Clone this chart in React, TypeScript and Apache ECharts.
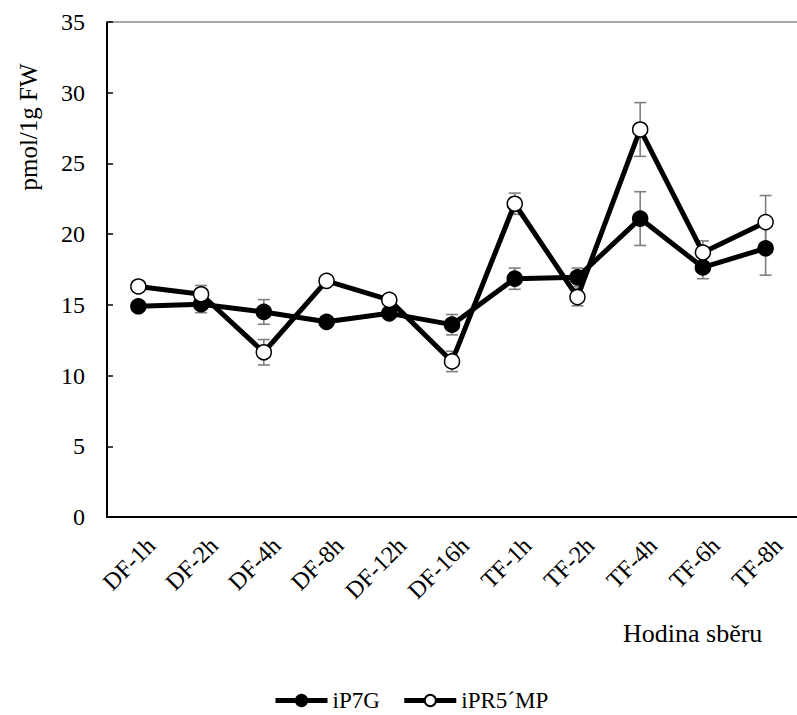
import React, { useEffect, useRef } from "react";
import * as echarts from "echarts";

// Sampling hours (DF = dark phase, TF = light phase)
const categories = [
  "DF-1h", "DF-2h", "DF-4h", "DF-8h", "DF-12h", "DF-16h",
  "TF-1h", "TF-2h", "TF-4h", "TF-6h", "TF-8h",
];

const ip7g = [14.9, 15.05, 14.5, 13.8, 14.4, 13.6, 16.85, 16.95, 21.1, 17.65, 19.0];
const ip7gErr = [0.3, 0.6, 0.87, 0.3, 0.3, 0.72, 0.75, 0.65, 1.9, 0.8, 1.9];

const iprmp = [16.3, 15.75, 11.65, 16.7, 15.35, 11.0, 22.15, 15.55, 27.4, 18.7, 20.85];
const iprmpErr = [0.3, 0.62, 0.9, 0.3, 0.3, 0.72, 0.75, 0.62, 1.9, 0.82, 1.88];

const yTicks = { min: 0, max: 35, interval: 5 };

const FONT = "'Liberation Serif', 'Times New Roman', serif";

function errorSeries(values: number[], errs: number[]) {
  const data = values.map((v, i) => [i, v - errs[i], v + errs[i]]);
  return {
    type: "custom",
    silent: true,
    z: 1,
    data,
    renderItem: (params: any, api: any) => {
      const idx = api.value(0);
      const lo = api.coord([idx, api.value(1)]);
      const hi = api.coord([idx, api.value(2)]);
      const cap = 6;
      const style = { stroke: "#7f7f7f", lineWidth: 1.6 };
      return {
        type: "group",
        children: [
          { type: "line", shape: { x1: lo[0], y1: lo[1], x2: hi[0], y2: hi[1] }, style },
          { type: "line", shape: { x1: hi[0] - cap, y1: hi[1], x2: hi[0] + cap, y2: hi[1] }, style },
          { type: "line", shape: { x1: lo[0] - cap, y1: lo[1], x2: lo[0] + cap, y2: lo[1] }, style },
        ],
      };
    },
  };
}

export default function App() {
  const ref = useRef<HTMLDivElement>(null);

  useEffect(() => {
    if (!ref.current) return;
    const chart = echarts.init(ref.current, undefined, { renderer: "svg" });
    chart.setOption({
      animation: false,
      backgroundColor: "#ffffff",
      textStyle: { fontFamily: FONT, color: "#000" },
      grid: { left: 107, top: 22, right: -9, bottom: 198, containLabel: false },
      xAxis: [
        {
          type: "category",
          data: categories,
          boundaryGap: true,
          axisLine: { lineStyle: { color: "#000", width: 2 } },
          axisTick: { inside: true, alignWithLabel: true, length: 6, lineStyle: { color: "#000", width: 1.5 } },
          axisLabel: {
            rotate: 45,
            margin: 12,
            interval: 0,
            fontFamily: FONT,
            fontSize: 24,
            color: "#000",
            verticalAlign: "top",
            lineHeight: 36,
          },
          splitLine: { show: false },
        },
        {
          type: "category",
          data: categories,
          position: "top",
          axisLine: { lineStyle: { color: "#8a8a8a", width: 1.5 } },
          axisTick: { show: false },
          axisLabel: { show: false },
        },
      ],
      yAxis: {
        type: "value",
        min: yTicks.min,
        max: yTicks.max,
        interval: yTicks.interval,
        axisLine: { show: true, lineStyle: { color: "#000", width: 2 } },
        axisTick: { show: true, inside: true, length: 6, lineStyle: { color: "#000", width: 1.5 } },
        axisLabel: { margin: 22, fontFamily: FONT, fontSize: 24, color: "#000" },
        splitLine: { show: false },
      },
      legend: {
        data: ["iP7G", "iPR5´MP"],
        left: 273,
        top: 689,
        padding: 0,
        itemWidth: 52,
        itemHeight: 14,
        itemGap: 22,
        lineStyle: { width: 5, color: "#000" },
        textStyle: { fontFamily: FONT, fontSize: 23, lineHeight: 20, color: "#000" },
      },
      graphic: [
        {
          type: "text",
          x: 28,
          y: 127,
          rotation: Math.PI / 2,
          style: {
            text: "pmol/1g FW",
            font: `25px ${FONT}`,
            fill: "#000",
            align: "center",
            verticalAlign: "middle",
          },
        },
        {
          type: "text",
          x: 623,
          y: 633,
          style: {
            text: "Hodina sběru",
            font: `26px ${FONT}`,
            fill: "#000",
            align: "left",
            verticalAlign: "middle",
          },
        },
      ],
      series: [
        errorSeries(ip7g, ip7gErr),
        errorSeries(iprmp, iprmpErr),
        {
          name: "iP7G",
          type: "line",
          z: 2,
          data: ip7g,
          symbol: "circle",
          symbolSize: 15,
          lineStyle: { color: "#000", width: 5 },
          itemStyle: { color: "#000", borderColor: "#000", borderWidth: 1.5 },
        },
        {
          name: "iPR5´MP",
          type: "line",
          z: 3,
          data: iprmp,
          symbol: "circle",
          symbolSize: 15,
          lineStyle: { color: "#000", width: 5 },
          itemStyle: { color: "#fff", borderColor: "#000", borderWidth: 1.5 },
        },
      ],
    });
    return () => chart.dispose();
  }, []);

  return <div ref={ref} style={{ width: 797, height: 715, position: "absolute", left: 0, top: 0 }} />;
}
